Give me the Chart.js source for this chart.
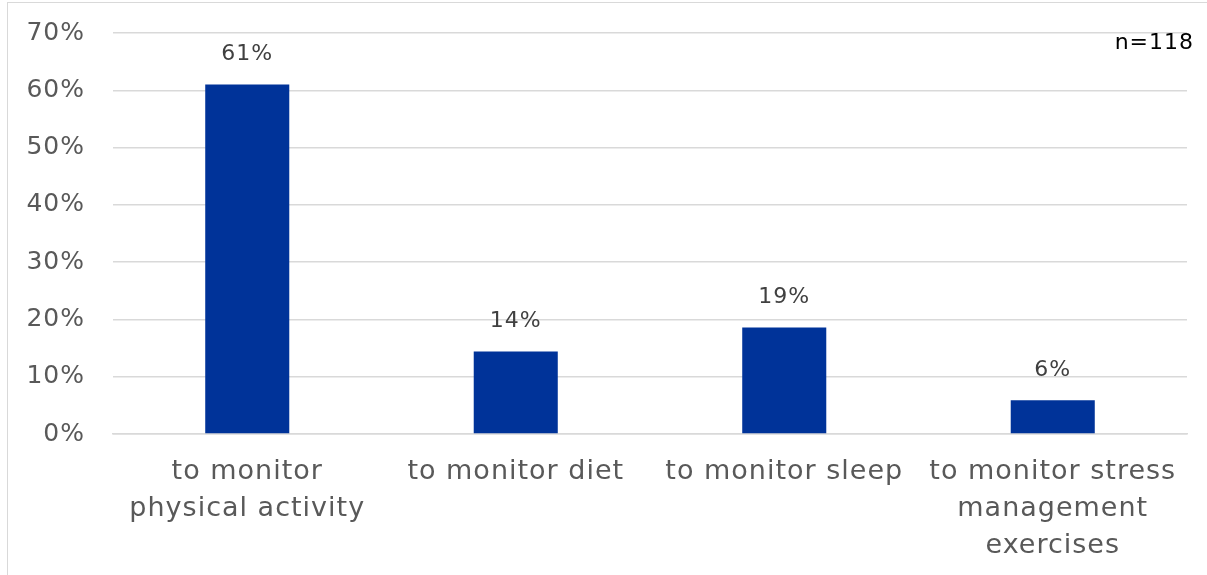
<!DOCTYPE html>
<html>
<head>
<meta charset="utf-8">
<script src="https://cdn.jsdelivr.net/npm/chart.js@4"></script>
<style>
  html, body { margin: 0; padding: 0; background: #fff; }
  #wrap { position: relative; width: 1207px; height: 575px; overflow: hidden; }
  #frame { position: absolute; left: 7px; top: 2px; width: 1220px; height: 600px; border: 1px solid #d9d9d9; box-sizing: border-box; }
  canvas { position: absolute; left: 0; top: 0; }
</style>
</head>
<body>
<div id="wrap">
  <div id="frame"></div>
  <canvas id="usagecanvas" width="1207" height="575"></canvas>
</div>
<script>
var purposes = [
  ['to monitor', 'physical activity'],
  'to monitor diet',
  'to monitor sleep',
  ['to monitor stress', 'management', 'exercises']
];
var shares = [61.0, 14.4, 18.6, 5.9];   // percent of respondents
var sampleNote = 'n=118';
var yTicks = [0, 10, 20, 30, 40, 50, 60, 70];

var fontName = "'DejaVu Sans', sans-serif";

// a little tracking on all text, the labels run wide
var spacing = {
  id: 'spacing',
  beforeLayout: function(chart) { chart.ctx.letterSpacing = '1px'; },
  beforeDraw: function(chart) { chart.ctx.letterSpacing = '1px'; }
};

// value labels above each bar + the sample size in the corner
var barLabels = {
  id: 'barLabels',
  afterDatasetsDraw: function(chart) {
    var ctx = chart.ctx;
    var meta = chart.getDatasetMeta(0);
    ctx.save();
    ctx.font = '22px ' + fontName;
    ctx.fillStyle = '#404040';
    ctx.textAlign = 'center';
    ctx.textBaseline = 'middle';
    meta.data.forEach(function(bar, i) {
      ctx.fillText(Math.round(shares[i]) + '%', bar.x, bar.y - 30);
    });
    ctx.fillStyle = '#000';
    ctx.textAlign = 'right';
    ctx.fillText(sampleNote, 1194, 43);
    ctx.restore();
  }
};

var chartdata = {
  labels: purposes,
  datasets: [
    {
      label: 'Share',
      backgroundColor: '#003399',
      borderColor: '#003399',
      data: shares,
      barPercentage: 0.313,
      categoryPercentage: 1
    }
  ]
};

var ctx = document.getElementById('usagecanvas');
var barGraph = new Chart(ctx, {
  type: 'bar',
  data: chartdata,
  plugins: [spacing, barLabels],
  options: {
    responsive: false,
    animation: false,
    layout: { padding: { top: 33, right: 20, bottom: 0, left: 0 } },
    plugins: {
      legend: { display: false },
      tooltip: { enabled: false }
    },
    scales: {
      x: {
        grid: { display: false, drawTicks: false },
        border: { color: '#d9d9d9', width: 1.5 },
        ticks: {
          color: '#595959',
          font: { family: fontName, size: 27, lineHeight: 1.36 },
          padding: 20,
          maxRotation: 0,
          autoSkip: false
        },
        afterFit: function(scale) {
          scale.height = 141;
          scale.paddingLeft = 0;
          scale.paddingRight = 0;
        }
      },
      y: {
        min: 0,
        max: 70,
        afterBuildTicks: function(scale) {
          scale.ticks = yTicks.map(function(v) { return { value: v }; });
        },
        grid: { color: '#d9d9d9', lineWidth: 1.5, drawTicks: false },
        border: { display: false },
        ticks: {
          color: '#595959',
          font: { family: fontName, size: 25 },
          padding: 28,
          callback: function(v) { return v + '%'; }
        },
        afterFit: function(scale) {
          scale.width = 113;
          scale.paddingTop = 0;
          scale.paddingBottom = 0;
        }
      }
    }
  }
});
</script>
</body>
</html>
